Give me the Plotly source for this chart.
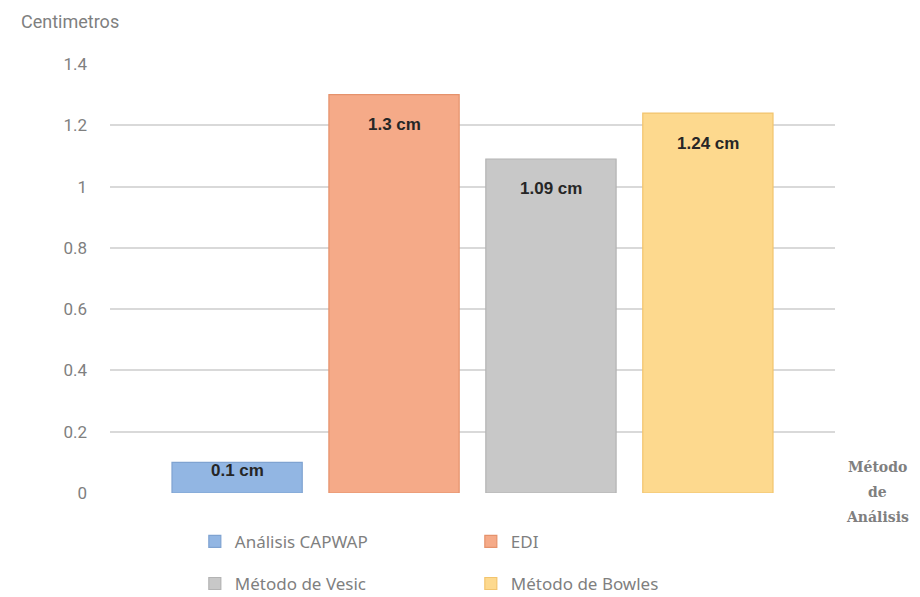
import plotly.graph_objects as go

methods = ["Análisis CAPWAP", "EDI", "Método de Vesic", "Método de Bowles"]
values = [0.10, 1.30, 1.09, 1.24]
labels = ["0.1 cm", "1.3 cm", "1.09 cm", "1.24 cm"]
colors = ["#92b6e3", "#f5aa88", "#c8c8c8", "#fdd98e"]
borders = ["#7fa3d1", "#e5926c", "#b3b3b3", "#f2c46e"]
y_ticks = [0, 0.2, 0.4, 0.6, 0.8, 1, 1.2, 1.4]
y_ticktext = ["0", "0.2", "0.4", "0.6", "0.8", "1", "1.2", "1.4"]
x_title_lines = ["Método", "de", "Análisis"]

fig = go.Figure()
for i, (m, v, c, b) in enumerate(zip(methods, values, colors, borders)):
    fig.add_trace(go.Bar(
        x=[m], y=[v], name=m, width=0.83,
        marker=dict(color=c, line=dict(color=b, width=1.2)),
        legend="legend" if i < 2 else "legend2",
        hoverinfo="skip",
    ))
    fig.add_annotation(
        x=m, y=v, text="<b>%s</b>" % labels[i], showarrow=False,
        yanchor="middle", yshift=-30 if v > 0.3 else -8,
        font=dict(family="Liberation Sans, Arial, sans-serif", size=17, color="#262626"),
    )

fig.add_annotation(
    xref="paper", yref="paper", x=-0.055, y=1.098, text="Centimetros",
    showarrow=False, xanchor="center", yanchor="middle",
    font=dict(family="Roboto, sans-serif", size=18, color="#7f7f7f"),
)
for k, line in enumerate(x_title_lines):
    fig.add_annotation(
        xref="paper", yref="paper", x=1.059, y=0.0606 - k * 0.0583,
        text="<b>%s</b>" % line, showarrow=False,
        xanchor="center", yanchor="middle",
        font=dict(family="DejaVu Serif, serif", size=14, color="#7f7f7f"),
    )

legend_common = dict(
    orientation="h", xanchor="left", yanchor="middle", bgcolor="rgba(0,0,0,0)",
    entrywidth=231, entrywidthmode="pixels",
    font=dict(family="Noto Sans, sans-serif", size=17, color="#7f7f7f"),
    itemclick=False, itemdoubleclick=False,
)
fig.update_layout(
    width=920, height=597,
    margin=dict(l=110, r=85, t=64, b=104, autoexpand=False),
    paper_bgcolor="white", plot_bgcolor="white",
    barmode="overlay",
    showlegend=True,
    legend=dict(x=0.117, y=-0.114, **legend_common),
    legend2=dict(x=0.117, y=-0.212, **legend_common),
    xaxis=dict(type="category", range=[-0.81, 3.81], showticklabels=False,
               showgrid=False, zeroline=False, showline=False, ticks=""),
    yaxis=dict(range=[0, 1.4], tickvals=y_ticks, ticktext=y_ticktext,
               showgrid=True, gridcolor="#d9d9d9", gridwidth=1.5,
               zeroline=False, showline=False, ticks="",
               ticklabelstandoff=22,
               tickfont=dict(family="Roboto, sans-serif", size=17, color="#7f7f7f")),
)
fig.write_html("out.html")
